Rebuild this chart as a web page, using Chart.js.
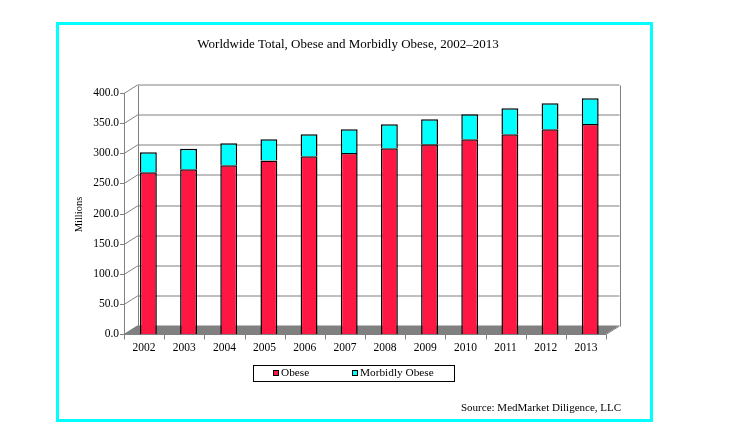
<!DOCTYPE html>
<html>
<head>
<meta charset="utf-8">
<script src="https://cdn.jsdelivr.net/npm/chart.js@4/dist/chart.umd.min.js"></script>
<style>
  body { margin: 0; background: #fff; }
  canvas { display: block; }
</style>
</head>
<body>
<canvas id="obesityChart" width="747" height="447"></canvas>
<script>
const years = ['2002', '2003', '2004', '2005', '2006', '2007', '2008', '2009', '2010', '2011', '2012', '2013'];
const obese = [268.4, 273.4, 280.0, 287.9, 294.9, 300.4, 308.2, 314.9, 323.2, 331.5, 339.8, 348.5];
const morbidlyObese = [33.2, 34.2, 36.5, 35.2, 36.5, 39.3, 39.8, 41.4, 41.4, 43.1, 43.1, 42.7];
const yTickStep = 50;

const SERIF = "'Liberation Serif', 'DejaVu Serif', serif";
const RED = '#ff1744';
const CYAN = '#00ffff';
const GRID = '#808080';

// depth offset of the back wall (fake 3d)
const DX = 13.5;
const DY = -8.5;

const wallPlugin = {
    id: 'wall',
    beforeDatasetsDraw(chart) {
        const { ctx, chartArea: a, scales } = chart;
        const y = scales.y;
        ctx.save();
        ctx.lineWidth = 1;
        ctx.strokeStyle = GRID;

        // floor
        ctx.fillStyle = GRID;
        ctx.beginPath();
        ctx.moveTo(a.left, a.bottom);
        ctx.lineTo(a.left + DX, a.bottom + DY);
        ctx.lineTo(a.right + DX, a.bottom + DY);
        ctx.lineTo(a.right, a.bottom);
        ctx.closePath();
        ctx.fill();

        // grid lines with ticks and side-wall diagonals
        y.ticks.forEach(t => {
            const py = Math.round(y.getPixelForValue(t.value)) + 0.5;
            ctx.beginPath();
            ctx.moveTo(a.left - 4, py);
            ctx.lineTo(a.left, py);
            ctx.lineTo(a.left + DX, py + DY);
            if (t.value > 0) ctx.lineTo(a.right + DX, py + DY);
            ctx.stroke();
        });

        // wall edges
        const top = Math.round(a.top + DY) + 0.5;
        const bot = Math.round(a.bottom + DY) + 0.5;
        ctx.beginPath();
        ctx.moveTo(Math.round(a.left + DX) + 0.5, top);
        ctx.lineTo(Math.round(a.left + DX) + 0.5, bot);
        ctx.moveTo(Math.round(a.right + DX) + 0.5, top);
        ctx.lineTo(Math.round(a.right + DX) + 0.5, bot);
        ctx.stroke();

        // front axes
        const fl = Math.round(a.left) + 0.5;
        const fb = Math.round(a.bottom) + 0.5;
        ctx.beginPath();
        ctx.moveTo(fl, a.top);
        ctx.lineTo(fl, fb);
        ctx.lineTo(a.right, fb);
        ctx.lineTo(a.right + DX, fb + DY);
        ctx.stroke();

        // category ticks
        const step = (a.right - a.left) / years.length;
        ctx.beginPath();
        for (let i = 0; i <= years.length; i++) {
            const px = Math.round(a.left + i * step) + 0.5;
            ctx.moveTo(px, fb);
            ctx.lineTo(px, fb + 5);
        }
        ctx.stroke();
        ctx.restore();

        // bars sit a little into the depth
        ctx.save();
        ctx.translate(4.3, 0);
    },
    afterDatasetsDraw(chart) {
        chart.ctx.restore();
    },
    afterDraw(chart) {
        const { ctx, chartArea: a, scales } = chart;
        const { x, y } = scales;
        ctx.save();
        ctx.fillStyle = '#000';

        // y labels
        ctx.font = '11.5px ' + SERIF;
        ctx.textAlign = 'right';
        ctx.textBaseline = 'middle';
        y.ticks.forEach(t => {
            ctx.fillText(t.value.toFixed(1), a.left - 5, y.getPixelForValue(t.value));
        });

        // x labels
        ctx.textAlign = 'center';
        years.forEach((yr, i) => {
            ctx.fillText(yr, x.getPixelForValue(i), a.bottom + 14);
        });

        // title
        ctx.font = '13px ' + SERIF;
        ctx.fillText('Worldwide Total, Obese and Morbidly Obese, 2002\u20132013', 348, 45);

        // axis title
        ctx.font = '10.5px ' + SERIF;
        ctx.save();
        ctx.translate(79, (a.top + a.bottom) / 2 + 1);
        ctx.rotate(-Math.PI / 2);
        ctx.fillText('Millions', 0, 0);
        ctx.restore();

        // legend
        ctx.lineWidth = 1;
        ctx.strokeStyle = '#000';
        ctx.strokeRect(253.5, 365.5, 201, 16);
        ctx.textAlign = 'left';
        ctx.font = '11.3px ' + SERIF;
        [[RED, 'Obese', 273], [CYAN, 'Morbidly Obese', 352]].forEach(([c, label, lx]) => {
            ctx.fillStyle = c;
            ctx.fillRect(lx + 0.5, 370.5, 5, 5);
            ctx.strokeRect(lx + 0.5, 370.5, 5, 5);
            ctx.fillStyle = '#000';
            ctx.fillText(label, lx + 8, 373.5);
        });

        // source
        ctx.font = '11px ' + SERIF;
        ctx.fillText('Source: MedMarket Diligence, LLC', 461, 408);

        // outer frame
        ctx.lineWidth = 3;
        ctx.strokeStyle = CYAN;
        ctx.strokeRect(57.5, 23.5, 594, 397);
        ctx.restore();
    }
};

new Chart(document.getElementById('obesityChart'), {
    type: 'bar',
    data: {
        labels: years,
        datasets: [{
            label: 'Obese',
            data: obese,
            backgroundColor: RED,
            borderColor: '#000',
            borderWidth: 1.5
        }, {
            label: 'Morbidly Obese',
            data: morbidlyObese,
            backgroundColor: CYAN,
            borderColor: '#000',
            borderWidth: 1.5
        }]
    },
    options: {
        responsive: false,
        animation: false,
        layout: { padding: { left: 124, right: 141, top: 93, bottom: 113 } },
        barPercentage: 0.42,
        categoryPercentage: 1,
        plugins: {
            legend: { display: false },
            tooltip: { enabled: false }
        },
        scales: {
            x: { stacked: true, display: false },
            y: {
                stacked: true,
                display: false,
                min: 0,
                max: 400,
                ticks: { stepSize: yTickStep }
            }
        }
    },
    plugins: [wallPlugin]
});
</script>
</body>
</html>
